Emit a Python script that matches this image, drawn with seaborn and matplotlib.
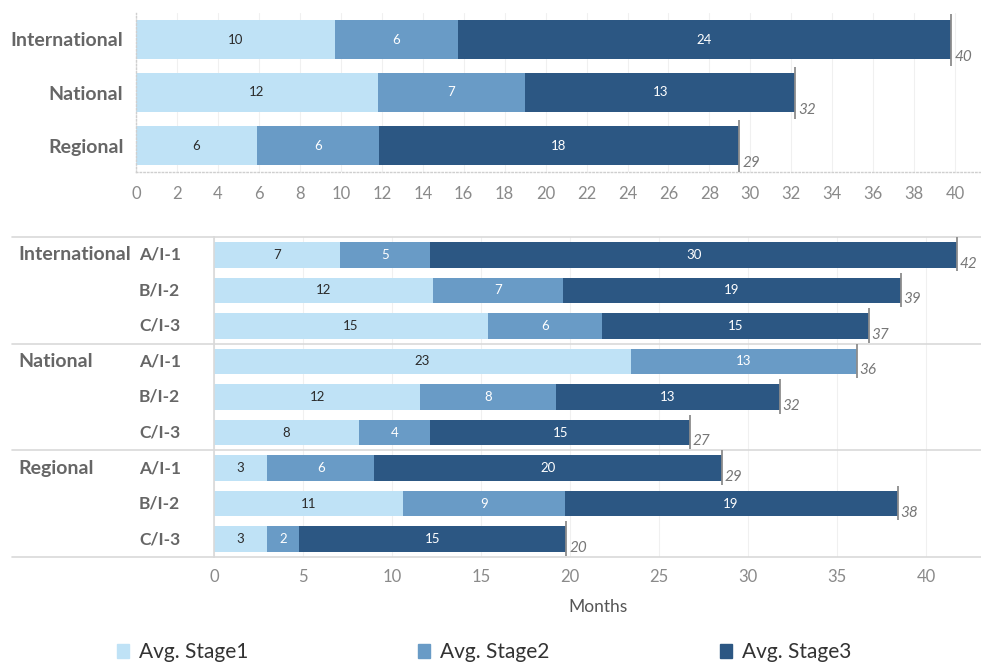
import numpy as np
import pandas as pd
import matplotlib
matplotlib.use("Agg")
import matplotlib.pyplot as plt
import matplotlib.transforms as mtransforms
from matplotlib.patches import Rectangle
from matplotlib.lines import Line2D
import seaborn as sns

# ---- Summary by scope (months) ----
scopes = ["International", "National", "Regional"]
scope_stage1 = [9.7, 11.8, 5.9]
scope_stage2 = [6.0, 7.2, 5.95]
scope_stage3 = [24.1, 13.2, 17.6]

# ---- Detail by scope and class (months) ----
groups = ["International", "National", "Regional"]
classes = ["A/I-1", "B/I-2", "C/I-3"]
detail_stage1 = [7.1, 12.3, 15.4, 23.4, 11.6, 8.15, 3.0, 10.6, 3.0]
detail_stage2 = [5.05, 7.3, 6.4, 12.7, 7.6, 4.0, 6.0, 9.1, 1.75]
detail_stage3 = [29.6, 19.0, 15.0, np.nan, 12.6, 14.6, 19.55, 18.7, 15.05]

stage_names = ["Avg. Stage1", "Avg. Stage2", "Avg. Stage3"]
stage_colors = ["#bfe2f6", "#699bc6", "#2c5783"]
label_colors = ["#2b2b2b", "white", "white"]

sns.set_theme(style="white")
plt.rcParams["font.family"] = ["Lato", "DejaVu Sans"]

W, H = 981, 664
fig = plt.figure(figsize=(W / 100, H / 100), dpi=100)
ax1 = fig.add_axes([136 / W, 1 - 172 / H, (W - 136) / W, 159 / H])
ax2 = fig.add_axes([214 / W, 1 - 557 / H, (W - 214) / W, 320 / H])

GRID = "#f0f0f0"
TICK = "#8a8a8a"
LABEL = "#666666"


def draw_stack(ax, keys, s1, s2, s3, width, line_span, total_dy, seg_size):
    df = pd.DataFrame({"key": keys, "s1": s1, "s2": s2, "s3": s3})
    filled = df[["s1", "s2", "s3"]].fillna(0)
    df["end1"] = filled["s1"]
    df["end2"] = filled["s1"] + filled["s2"]
    df["end3"] = filled["s1"] + filled["s2"] + filled["s3"]
    # draw longest cumulative bar first so shorter ones sit on top
    for col, color in zip(["end3", "end2", "end1"], stage_colors[::-1]):
        sns.barplot(data=df, x=col, y="key", order=keys, orient="h",
                    color=color, saturation=1, width=width, errorbar=None,
                    linewidth=0, ax=ax)
    for i, row in df.iterrows():
        start = 0.0
        for j, c in enumerate(["s1", "s2", "s3"]):
            v = row[c]
            if pd.isna(v):
                continue
            ax.text(start + v / 2, i, f"{v:.0f}", ha="center", va="center",
                    color=label_colors[j], fontsize=seg_size)
            start += v
        total = row["end3"]
        ax.vlines(total, i + line_span[0], i + line_span[1],
                  color="#8c8c8c", lw=1.3, zorder=5)
        ax.text(total + 0.15, i + total_dy, f"{total:.0f}", ha="left",
                va="center", color="#777777", fontsize=11, style="italic")
    ax.set_ylim(len(keys) - 0.5, -0.5)
    ax.set_xlabel("")
    ax.set_ylabel("")


# ---- Top chart ----
draw_stack(ax1, scopes, scope_stage1, scope_stage2, scope_stage3,
           width=0.75, line_span=(-0.49, 0.5), total_dy=0.33, seg_size=9.5)
ax1.set_xlim(0, (W - 136) / 20.48)
ax1.set_xticks(np.arange(0, 41, 2))
ax1.tick_params(axis="x", length=0, pad=10, labelsize=12, labelcolor=TICK)
ax1.tick_params(axis="y", length=0, pad=9, labelsize=14, labelcolor=LABEL)
for t in ax1.get_yticklabels():
    t.set_fontweight("bold")
ax1.set_axisbelow(True)
ax1.grid(axis="x", color=GRID, lw=0.8)
for s in ["top", "right"]:
    ax1.spines[s].set_visible(False)
for s in ["left", "bottom"]:
    ax1.spines[s].set_color("#cfcfcf")
    ax1.spines[s].set_linestyle(":")
    ax1.spines[s].set_linewidth(1)

# ---- Bottom chart ----
keys = [f"{g} {c}" for g in groups for c in classes]
draw_stack(ax2, keys, detail_stage1, detail_stage2, detail_stage3,
           width=0.72, line_span=(-0.5, 0.47), total_dy=0.25, seg_size=9.5)
ax2.set_xlim(0, (W - 214) / 17.8)
ax2.set_xticks(np.arange(0, 41, 5))
ax2.set_yticks([])
ax2.tick_params(axis="x", length=0, pad=9, labelsize=12, labelcolor=TICK)
ax2.set_xlabel("Months", fontsize=12.5, color="#555555", labelpad=10)
ax2.set_axisbelow(True)
ax2.grid(axis="x", color=GRID, lw=0.8)
for s in ["top", "right", "bottom"]:
    ax2.spines[s].set_visible(False)
ax2.spines["left"].set_color("#d9d9d9")
ax2.spines["left"].set_linewidth(1.2)

row_tr = mtransforms.blended_transform_factory(fig.transFigure, ax2.transData)
for gi, g in enumerate(groups):
    ax2.text(18 / W, gi * 3, g, transform=row_tr, ha="left", va="center",
             fontsize=14, fontweight="bold", color=LABEL)
    for ci, c in enumerate(classes):
        ax2.text(139 / W, gi * 3 + ci, c, transform=row_tr, ha="left",
                 va="center", fontsize=12.5, fontweight="bold", color=LABEL)
for yb in [-0.5, 2.5, 5.5, 8.5]:
    ax2.add_line(Line2D([12 / W, 1.0], [yb, yb], transform=row_tr,
                        color="#d9d9d9", lw=1.2, clip_on=False))

# ---- Legend ----
for x, name, color in zip([117, 418, 720], stage_names, stage_colors):
    fig.patches.append(Rectangle((x / W, 1 - 658 / H), 12 / W, 14 / H,
                                 transform=fig.transFigure, color=color))
    fig.text((x + 22) / W, 1 - 652 / H, name, fontsize=15, color="#333333",
             va="center", ha="left")

fig.savefig("out.png", dpi=100)
